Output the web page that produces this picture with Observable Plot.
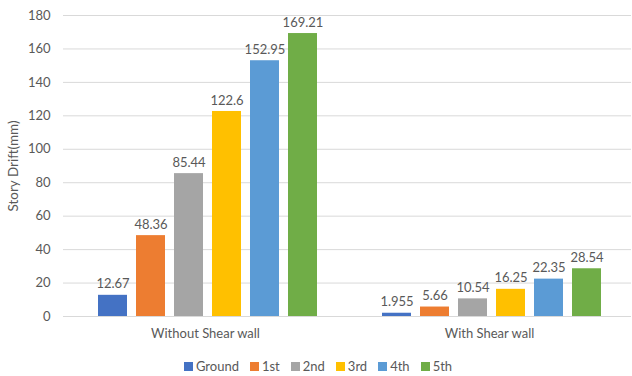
<!DOCTYPE html>
<html>
<head>
<meta charset="utf-8">
<script src="https://cdn.jsdelivr.net/npm/d3@7"></script>
<script src="https://cdn.jsdelivr.net/npm/@observablehq/plot@0.6"></script>
<style>
  body { margin: 0; background: #fff; font-family: Lato, "Open Sans", sans-serif; }
  #chart { position: relative; width: 632px; }
  .legend { display: flex; justify-content: center; gap: 11px; font-size: 13px; color: #595959; margin-top: 15px; padding-left: 4px; }
  .legend span { display: inline-flex; align-items: center; }
  .legend i { display: inline-block; width: 9px; height: 9px; margin-right: 3px; }
</style>
</head>
<body>
<div id="chart"></div>
<script>
const groups = ["Without Shear wall", "With Shear wall"];
const stories = ["Ground", "1st", "2nd", "3rd", "4th", "5th"];
const withoutWall = [12.67, 48.36, 85.44, 122.6, 152.95, 169.21];
const withWall = [1.955, 5.66, 10.54, 16.25, 22.35, 28.54];
const yTicks = [0, 20, 40, 60, 80, 100, 120, 140, 160, 180];
const colors = ["#4472C4", "#ED7D31", "#A5A5A5", "#FFC000", "#5B9BD5", "#70AD47"];

const rows = [];
[withoutWall, withWall].forEach((vals, g) => {
  vals.forEach((v, i) => rows.push({group: groups[g], story: stories[i], value: v}));
});

const plot = Plot.plot({
  width: 632,
  height: 343,
  marginLeft: 63,
  marginRight: 1,
  marginTop: 15,
  marginBottom: 27,
  style: {fontFamily: "Lato, 'Open Sans', sans-serif", fontSize: "13px", color: "#595959", background: "#fff"},
  fx: {domain: groups, padding: 0},
  x: {domain: stories, paddingInner: 0.235, paddingOuter: 0.825, align: 0.54, axis: null},
  y: {domain: [0, 180]},
  color: {domain: stories, range: colors},
  marks: [
    Plot.gridY(yTicks, {stroke: "#d9d9d9", strokeOpacity: 1}),
    Plot.axisY(yTicks, {tickSize: 0, tickPadding: 13, label: null, fill: "#595959"}),
    Plot.axisFx({anchor: "bottom", tickSize: 0, tickPadding: 12, label: null, fill: "#595959"}),
    Plot.barY(rows, {fx: "group", x: "story", y: "value", fill: "story"}),
    Plot.text(rows, {fx: "group", x: "story", y: "value", text: d => String(d.value), dy: -11, fill: "#595959", fontSize: 13})
  ]
});
const chart = document.getElementById("chart");
chart.appendChild(plot);

// rotated y-axis title
const ytitle = document.createElement("div");
ytitle.textContent = "Story Drift(mm)";
Object.assign(ytitle.style, {
  position: "absolute", left: "13px", top: "166px", transform: "translate(-50%, -50%) rotate(-90deg)",
  whiteSpace: "nowrap", fontSize: "13.5px", color: "#595959"
});
chart.appendChild(ytitle);

// legend
const legend = document.createElement("div");
legend.className = "legend";
stories.forEach((s, i) => {
  const item = document.createElement("span");
  item.innerHTML = `<i style="background:${colors[i]}"></i>${s}`;
  legend.appendChild(item);
});
chart.appendChild(legend);
</script>
</body>
</html>
